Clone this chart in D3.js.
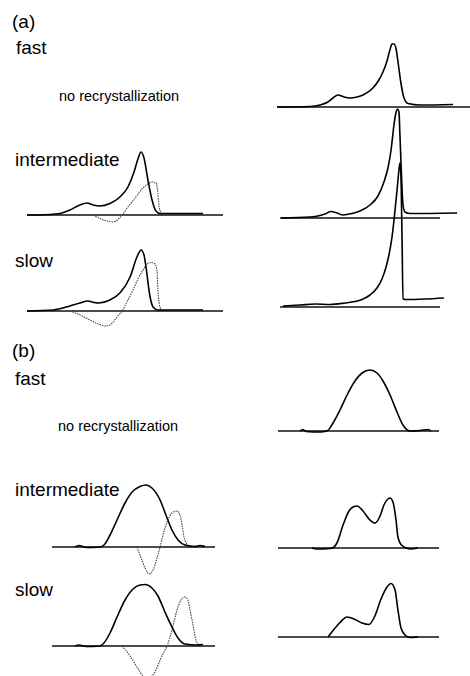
<!DOCTYPE html>
<html>
<head>
<meta charset="utf-8">
<script src="https://cdn.jsdelivr.net/npm/d3@7"></script>
<style>
  body { margin: 0; background: #fff; }
  svg { display: block; }
  .lbl { font-family: "Liberation Sans", Arial, sans-serif; fill: #000; }
  .base { stroke: #111; stroke-width: 1.4; fill: none; }
  .solid { stroke: #000; stroke-width: 1.6; fill: none; }
  .dotted { stroke: #444; stroke-width: 1.1; fill: none; stroke-dasharray: 1.5,1; }
</style>
</head>
<body>
<div class="vis"></div>
<script>

//********************//
//   CURVE DATA       //
//********************//
// [temperature (0-100, arbitrary), heat flow (arbitrary units, 0 = baseline)]

// (a) left column, with recrystallization contribution (dotted)
var aIntSolid = [[0,0],[11.7,0.5],[16.8,1.5],[21.9,5],[27,10],[30.6,12],[33.7,10],[37.2,9],[42.3,11.5],[47.4,18],[51.5,28],[54.6,43],[56.6,56],[58.2,63],[59.7,57],[61.7,35],[63.8,15],[65.8,4],[67.9,1.5],[73,1.5],[89.8,1.5]];
var aIntDotted = [[33.7,0],[37.2,-3.5],[40.8,-6],[43.9,-7],[46.4,-4.5],[48.5,0],[51.5,8],[55.1,17],[59.2,27],[61.7,31],[63.8,33],[65.8,32],[66.6,25],[67.3,10],[68.4,2],[69.4,0]];
var aSlowSolid = [[0,0],[13.3,1],[21.9,5],[27,8],[31.1,10],[34.2,8.5],[36.7,8],[42.3,11],[47.4,18],[52.6,34],[56.1,54],[58.2,61],[59.7,56],[60.7,44],[62.8,14],[64.3,4],[66.8,1],[89.8,1]];
var aSlowDotted = [[21.9,0],[26,-3],[32.1,-9],[37.2,-13.5],[39.8,-15],[42.3,-14],[45.9,-6],[48.5,0],[51.5,11],[54.1,21],[56.6,32],[59.2,41],[61.2,47],[63.3,48.5],[65.3,47],[66.3,41],[66.8,21],[67.6,6],[68.9,0]];

// (a) right column, measured curves
var aFastMeas = [[0,0],[17.1,0.5],[22.3,2],[26.4,5],[29,9],[31.6,12],[34.7,10],[37.8,9],[41.5,10],[44.6,12],[49.7,19],[52.8,27],[54.9,35],[57,46],[58.5,57],[59.6,63],[60.6,63],[61.7,58],[62.7,45],[64.2,24],[65.8,9],[67.9,3.5],[74.1,2],[91.2,2.5]];
var aIntMeas = [[2.1,0],[17.1,1],[22.3,2.5],[24.9,4],[28,6.5],[31.1,5],[34.2,3],[38.9,4.5],[43,7],[48.2,13],[52.3,22],[55.4,36],[57.5,50],[59.1,68],[60.6,93],[61.7,106],[62.4,109],[63.2,106],[63.7,83],[64.5,43],[65.3,13],[66.3,6],[68.9,4.5],[93.3,5]];
var aSlowMeas = [[3.1,1],[11.9,2],[19.7,3],[27.5,2.5],[35.2,4],[40.4,5.5],[44,7.5],[48.2,12],[51.8,19],[54.4,28],[56.5,40],[58,52],[59.6,70],[60.9,92],[62.2,117],[63.2,137],[63.7,144],[64.2,132],[64.8,67],[65.3,8],[66.8,7.5],[76.7,8],[86.5,9]];

// (b) left column
var bIntSolid = [[14.1,0],[16.6,1.5],[20.9,-0.5],[29.4,0],[31.9,2],[35.6,12],[39.9,27],[44.8,44],[49.1,55],[54,60.5],[57.7,62],[61.3,59],[66.3,47],[69.9,32],[73.6,17],[77.3,7],[81.6,2],[87.7,0.5],[90.8,1.5],[93.9,0.5]];
var bIntDotted = [[52.1,0],[54,-8],[57.1,-21],[59.5,-27],[62,-23],[64.4,-11],[66.3,0],[68.1,12],[70.6,25],[73.6,34],[76.7,36],[78.5,32],[79.8,22],[81,10],[82.8,3],[84.7,0]];
var bSlowSolid = [[14.1,0],[16.6,1],[20.9,-0.5],[29.4,0],[31.3,2],[35.6,13],[39.9,29],[44.8,46],[49.7,57],[54,61],[57.1,61.5],[61.3,58],[65,50],[69.3,34],[73.6,19],[77.3,8],[81.6,2],[89,1],[92.6,1.5]];
var bSlowDotted = [[42.9,0],[47.9,-10],[52.1,-21],[55.8,-30],[58.3,-34],[60.7,-31],[63.8,-24],[66.3,-14],[68.7,-6],[70.6,0],[73.6,16],[76.7,36],[79.1,46],[81.6,49],[83.4,46],[84.7,36],[86.5,21],[88.3,6],[90.8,0]];

// (b) right column
var bFastMeas = [[13.7,0],[15.5,1.5],[17.4,-0.5],[26.1,-1],[30.4,0],[34.2,8],[38.5,21],[42.9,36],[47.8,50],[52.2,58],[57.1,61],[61.5,58],[65.2,50],[69.6,36],[73.9,19],[77.6,6],[82,0],[88.2,0.5],[93.2,1.5],[95,0]];
var bIntMeas = [[21.1,0],[24.2,-1],[32.3,-0.5],[34.8,1],[36.6,5],[40.4,23],[44.1,37],[46.6,41],[49.1,42],[52.8,37],[57.1,28],[60.2,25],[63.4,32],[65.8,43],[68.3,49],[69.6,50],[71.4,46],[73.3,28],[74.5,11],[77,2.5],[82,-1],[87,0]];
var bSlowMeas = [[31.1,0],[34.2,6.5],[38.5,14.5],[42.9,20],[47.8,17.5],[52.2,14],[56.5,12.5],[60.2,21],[64,38],[67.7,50],[70.2,53.5],[72.7,47],[74.5,27],[76.4,9],[78.9,2],[82,-0.5],[87,0]];

// labels
var rateLabels = ["fast", "intermediate", "slow"];
var partLabels = ["(a)", "(b)"];
var noRecryst = "no recrystallization";


//********************//
//   SVG / LAYOUT     //
//********************//

var width = 470, height = 676;

var svg = d3.select(".vis").append("svg")
	.attr("width", width)
	.attr("height", height);

// x scales per column (temperature -> px)
var xAL = d3.scaleLinear().domain([0, 100]).range([27, 223]);
var xAR = d3.scaleLinear().domain([0, 100]).range([277, 470]);
var xBL = d3.scaleLinear().domain([0, 100]).range([52, 215]);
var xBR = d3.scaleLinear().domain([0, 100]).range([278, 439]);

// each panel: column scale, baseline y, baseline extent (in temperature units), curves
var panels = [
	{ x: xAR, y0: 107, ext: [0, 100], solid: aFastMeas },
	{ x: xAL, y0: 215, ext: [0, 100], solid: aIntSolid, dotted: aIntDotted },
	{ x: xAR, y0: 218, ext: [1.6, 84.5], solid: aIntMeas },
	{ x: xAL, y0: 311, ext: [0, 100], solid: aSlowSolid, dotted: aSlowDotted },
	{ x: xAR, y0: 307, ext: [1.6, 84.5], solid: aSlowMeas },
	{ x: xBR, y0: 431, ext: [0, 100], solid: bFastMeas },
	{ x: xBL, y0: 547, ext: [0, 100], solid: bIntSolid, dotted: bIntDotted },
	{ x: xBR, y0: 548, ext: [0, 100], solid: bIntMeas },
	{ x: xBL, y0: 646, ext: [0, 100], solid: bSlowSolid, dotted: bSlowDotted },
	{ x: xBR, y0: 637, ext: [0, 100], solid: bSlowMeas }
];

panels.forEach(function(p) {
	// 1 unit of heat flow = 1 px
	var y = d3.scaleLinear().domain([0, 100]).range([p.y0, p.y0 - 100]);
	var line = d3.line()
		.x(function(d) { return p.x(d[0]); })
		.y(function(d) { return y(d[1]); })
		.curve(d3.curveMonotoneX);

	var g = svg.append("g");
	g.append("line")
		.attr("class", "base")
		.attr("x1", p.x(p.ext[0])).attr("x2", p.x(p.ext[1]))
		.attr("y1", y(0)).attr("y2", y(0));
	if (p.dotted) {
		g.append("path").datum(p.dotted)
			.attr("class", "dotted")
			.attr("d", line);
	}
	g.append("path").datum(p.solid)
		.attr("class", "solid")
		.attr("d", line);
});


//********************//
//   TEXT             //
//********************//

var bigFont = 19, smallFont = 14.5;

// part labels
[[12, 28], [12, 357]].forEach(function(pos, i) {
	svg.append("text").attr("class", "lbl")
		.attr("x", pos[0]).attr("y", pos[1])
		.style("font-size", bigFont + "px")
		.text(partLabels[i]);
});

// rate labels: fast / intermediate / slow for (a) and (b)
var ratePos = [[16, 54], [15, 166], [15, 267], [15, 385], [15, 496], [15, 596]];
ratePos.forEach(function(pos, i) {
	svg.append("text").attr("class", "lbl")
		.attr("x", pos[0]).attr("y", pos[1])
		.style("font-size", bigFont + "px")
		.text(rateLabels[i % 3]);
});

[[59, 101], [58, 431]].forEach(function(pos) {
	svg.append("text").attr("class", "lbl")
		.attr("x", pos[0]).attr("y", pos[1])
		.style("font-size", smallFont + "px")
		.text(noRecryst);
});

</script>
</body>
</html>
